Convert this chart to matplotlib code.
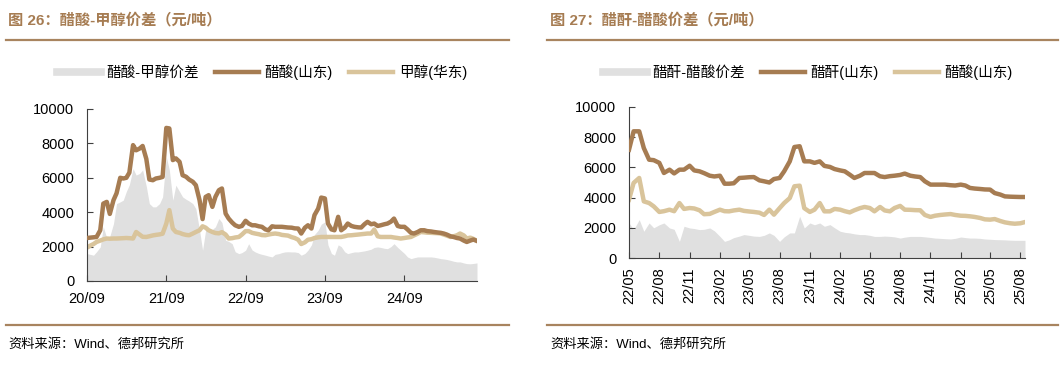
import matplotlib
matplotlib.use('Agg')
from matplotlib import pyplot as plt
from matplotlib.lines import Line2D
import matplotlib.dates as mdates
import pandas as pd

plt.rcParams['font.family'] = ['Liberation Sans', 'Noto Sans CJK SC', 'DejaVu Sans']

# ---- 图26 数据（半月频） ----
acetic_sd = [2500, 2520, 2540, 2560, 2950, 4500, 4600, 3900, 4700, 5100,
             6000, 5960, 6000, 6300, 7900, 7600, 7700, 7850, 7100, 5900,
             5860, 5960, 6000, 6050, 8900, 8870, 7030, 7130, 6930, 6150,
             6060, 5900, 5770, 5570, 4700, 3600, 4890, 4990, 4310, 4890,
             5280, 5380, 3920, 3630, 3400, 3240, 3150, 3200, 3500, 3340,
             3240, 3240, 3180, 3150, 3000, 2950, 3180, 3150, 3150, 3150,
             3130, 3110, 3100, 3060, 3050, 2760, 3100, 3240, 3050, 3830,
             4210, 4850, 4800, 3340, 3000, 2950, 3730, 2950, 3100, 3340,
             3200, 3150, 3120, 3110, 3300, 3440, 3300, 3340, 3200, 3240,
             3300, 3340, 3450, 3630, 3200, 3150, 3150, 3000, 2800, 2760,
             2850, 2950, 2950, 2900, 2880, 2850, 2820, 2800, 2760, 2700,
             2600, 2560, 2500, 2470, 2350, 2270, 2350, 2410, 2330]
methanol_hd = [1940, 2050, 2150, 2270, 2350, 2420, 2470, 2460, 2470, 2470,
               2480, 2490, 2500, 2490, 2470, 2850, 2700, 2570, 2560, 2600,
               2650, 2680, 2710, 2750, 3340, 4120, 3050, 2850, 2800, 2730,
               2680, 2660, 2760, 2850, 2950, 3180, 3100, 2950, 2850, 2790,
               2770, 2840, 2700, 2470, 2490, 2530, 2560, 2700, 2900, 2900,
               2800, 2760, 2720, 2670, 2660, 2700, 2740, 2760, 2730, 2680,
               2660, 2640, 2550, 2500, 2400, 2150, 2250, 2400, 2430, 2500,
               2540, 2560, 2560, 2560, 2560, 2560, 2560, 2560, 2600, 2650,
               2660, 2680, 2700, 2720, 2740, 2760, 2760, 2990, 2600, 2560,
               2560, 2560, 2560, 2530, 2500, 2470, 2500, 2530, 2560, 2650,
               2750, 2850, 2830, 2810, 2800, 2790, 2780, 2760, 2700, 2640,
               2560, 2600, 2660, 2760, 2650, 2470, 2520, 2450, 2330]
spread_26 = [1590, 1550, 1500, 1700, 1980, 3150, 2500, 2600, 3340, 4500,
             4600, 4700, 5200, 5600, 6540, 6160, 6250, 6450, 5500, 4500,
             4310, 4310, 4500, 4890, 7220, 6450, 4700, 5570, 5200, 4890,
             4750, 4650, 4500, 4200, 2950, 1790, 2950, 2950, 3000, 3150,
             3630, 3400, 2370, 2300, 2170, 1700, 1590, 1650, 1790, 2170,
             1800, 1690, 1600, 1550, 1500, 1450, 1400, 1550, 1590, 1650,
             1690, 1700, 1690, 1690, 1650, 1500, 1600, 1790, 2100, 2700,
             2950, 3300, 3440, 2100, 1600, 1500, 2100, 2000, 1700, 1590,
             1650, 1690, 1690, 1720, 1750, 1790, 1850, 1950, 1980, 1950,
             1900, 1880, 2000, 2170, 1950, 1790, 1600, 1400, 1300, 1350,
             1400, 1400, 1400, 1400, 1400, 1380, 1340, 1300, 1280, 1250,
             1200, 1150, 1110, 1110, 1050, 1010, 1000, 1020, 1050]

# ---- 图27 数据（半月频） ----
anhydride_sd = [7170, 8390, 8390, 7280, 6510, 6480, 6300, 5630, 5850, 5600,
                5850, 5850, 6110, 5800, 5740, 5620, 5450, 5400, 5450, 4920,
                4920, 4950, 5300, 5320, 5350, 5360, 5140, 5080, 5000, 5230,
                5300, 5740, 6400, 7350, 7400, 6400, 6400, 6300, 6400, 6100,
                6030, 5890, 5800, 5740, 5520, 5300, 5450, 5630, 5630, 5630,
                5410, 5360, 5420, 5450, 5500, 5590, 5450, 5400, 5360, 5080,
                4860, 4860, 4860, 4860, 4820, 4800, 4860, 4800, 4640, 4600,
                4570, 4540, 4530, 4300, 4200, 4080, 4060, 4050, 4040, 4040]
acetic_sd_27 = [3860, 4970, 5300, 3750, 3640, 3420, 3050, 3100, 3200, 3100,
                3640, 3250, 3310, 3280, 3160, 2900, 2920, 3050, 3200, 3100,
                3090, 3150, 3200, 3120, 3080, 3050, 3000, 2850, 3200, 2870,
                3300, 3640, 3970, 4750, 4790, 3300, 3050, 3200, 3640, 3090,
                3090, 3250, 3200, 3100, 3020, 3160, 3300, 3380, 3310, 3090,
                3380, 3150, 3090, 3310, 3450, 3200, 3190, 3170, 3160, 2850,
                2720, 2800, 2850, 2880, 2910, 2850, 2800, 2790, 2760, 2720,
                2650, 2560, 2540, 2580, 2450, 2360, 2300, 2270, 2300, 2380]
spread_27 = [2320, 1880, 2540, 1770, 2320, 2000, 2200, 2320, 1990, 1900,
             1100, 2100, 1990, 1950, 1880, 1900, 1990, 1800, 1430, 1100,
             1200, 1350, 1450, 1550, 1500, 1450, 1430, 1500, 1660, 1500,
             1100, 1400, 1660, 1660, 2760, 1990, 2320, 2200, 2320, 2100,
             2210, 2000, 1770, 1700, 1660, 1600, 1550, 1550, 1500, 1430,
             1430, 1450, 1430, 1400, 1320, 1380, 1430, 1430, 1430, 1400,
             1360, 1320, 1300, 1280, 1260, 1300, 1390, 1350, 1320, 1320,
             1300, 1260, 1240, 1220, 1210, 1200, 1180, 1170, 1170, 1170]

dates_26 = pd.date_range('2020-09-01', periods=len(acetic_sd), freq='SMS')
dates_27 = pd.date_range('2022-05-01', periods=len(anhydride_sd), freq='SMS')

C_DARK = '#A67C52'
C_LIGHT = '#D9C49B'
C_GRAY = '#E0E0E0'
C_RULE = '#A8845F'
TXT = ['Liberation Sans', 'Noto Sans CJK SC', 'DejaVu Sans']

fig = plt.figure(figsize=(10.63, 3.66), dpi=100)
W, H = 1063, 366


def fx(px):
    return px / W


def fy(py):
    return 1 - py / H


def rule(x0, x1, y):
    fig.add_artist(Line2D([fx(x0), fx(x1)], [fy(y), fy(y)], color=C_RULE, lw=1.6))


def panel(rect, dates, spread, dark, light, labels, title, tx, lx, ticks, rot):
    ax = fig.add_axes(rect)
    ax.fill_between(dates, spread, 0, color=C_GRAY, lw=0, zorder=1)
    ax.plot(dates, dark, color=C_DARK, lw=3.2, zorder=3)
    ax.plot(dates, light, color=C_LIGHT, lw=3.2, zorder=2)
    ax.set_ylim(0, 10000)
    ax.set_yticks(range(0, 10001, 2000))
    ax.set_xlim(dates[0], dates[-1])
    ax.set_xticks(ticks)
    ax.xaxis.set_major_formatter(mdates.DateFormatter('%y/%m'))
    for s in ['top', 'right']:
        ax.spines[s].set_visible(False)
    for s in ['left', 'bottom']:
        ax.spines[s].set_color('#404040')
        ax.spines[s].set_linewidth(0.8)
    ax.tick_params(direction='in', length=4, width=0.8, color='#404040', labelsize=10.5)
    ax.tick_params(axis='y', pad=9)
    ax.tick_params(axis='x', pad=7 if rot else 8)
    if rot:
        plt.setp(ax.get_xticklabels(), rotation=90)
    fig.text(fx(tx), fy(20), title, family=TXT, fontsize=11, fontweight='bold',
             color=C_DARK, va='center', ha='left')
    handles = [Line2D([], [], color=C_GRAY, lw=5.5),
               Line2D([], [], color=C_DARK, lw=3.2),
               Line2D([], [], color=C_LIGHT, lw=3.2)]
    fig.legend(handles, labels, loc='center', bbox_to_anchor=(fx(lx), fy(72)), ncol=3,
               frameon=False, handlelength=3.0, handletextpad=0.4, columnspacing=1.1,
               prop={'family': TXT, 'size': 10.5})
    return ax


panel([fx(87), fy(281), fx(477 - 87), fy(109) - fy(281)], dates_26, spread_26, acetic_sd,
      methanol_hd, ['醋酸-甲醇价差', '醋酸(山东)', '甲醇(华东)'],
      '图 26：醋酸-甲醇价差（元/吨）', 8, 262,
      pd.to_datetime(['2020-09-01', '2021-09-01', '2022-09-01', '2023-09-01', '2024-09-01']), False)

panel([fx(629), fy(258), fx(1025 - 629), fy(107) - fy(258)], dates_27, spread_27, anhydride_sd,
      acetic_sd_27, ['醋酐-醋酸价差', '醋酐(山东)', '醋酸(山东)'],
      '图 27：醋酐-醋酸价差（元/吨）', 550, 808,
      pd.date_range('2022-05-01', '2025-08-01', freq='3MS'), True)

rule(6, 509, 40)
rule(547, 1058, 40)
rule(6, 509, 325)
rule(547, 1058, 325)
fig.text(fx(8), fy(344), '资料来源：Wind、德邦研究所', family=TXT, fontsize=9.5, va='center', ha='left')
fig.text(fx(550), fy(344), '资料来源：Wind、德邦研究所', family=TXT, fontsize=9.5, va='center', ha='left')

fig.savefig('out.png', dpi=100)
